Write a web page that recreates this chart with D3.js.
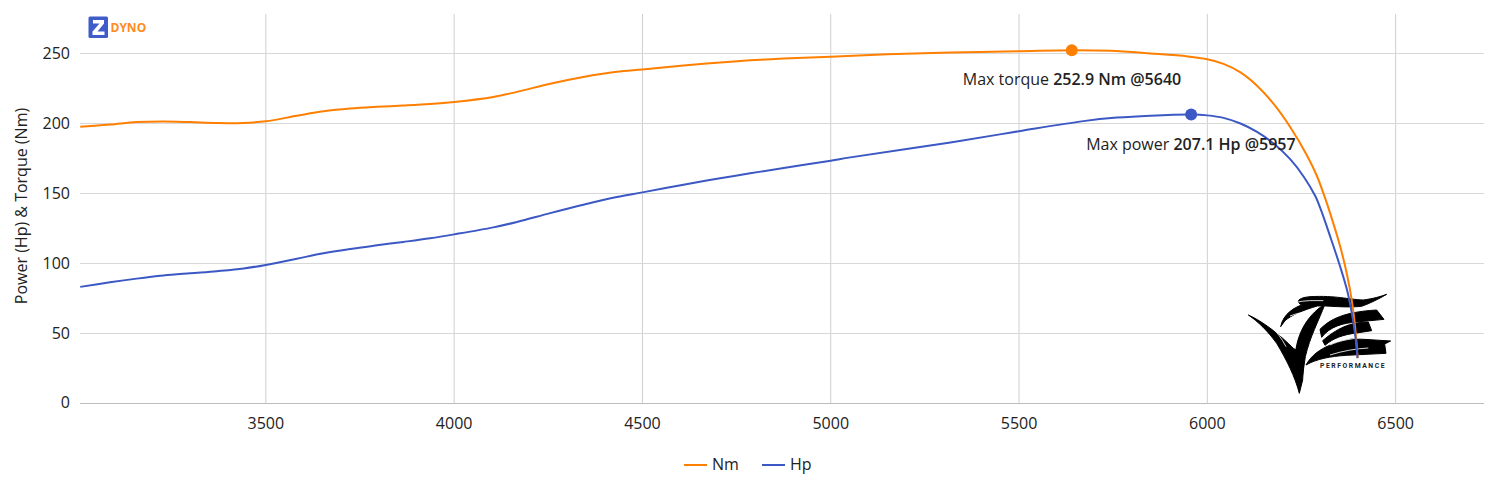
<!DOCTYPE html>
<html><head><meta charset="utf-8">
<script src="https://cdn.jsdelivr.net/npm/d3@7"></script>
<style>
html,body{margin:0;padding:0;background:#fff;}
svg{display:block;font-family:"Open Sans",sans-serif;}
text{fill:#222;}
</style></head><body>
<svg id="c" width="1500" height="500"></svg>
<script>
const seriesNames = ["Nm","Hp"];
const seriesColors = ["#ff7f00","#3b58c4"];
const xTicks = [3500,4000,4500,5000,5500,6000,6500];
const yTicks = [0,50,100,150,200,250];
const yTitle = "Power (Hp) & Torque (Nm)";

const nmRpm = [3007,3086,3157,3227,3299,3370,3440,3500,3582,3653,3724,3795,3865,3936,4000,4104,4167,4255,4343,4432,4500,4609,4698,4786,4875,5000,5150,5318,5500,5643,5742,5849,5948,6000,6043,6088,6132,6176,6220,6265,6291,6313,6326,6353,6371,6384,6393,6399];
const nmVal = [197.6,199.2,201,201.5,201,200.3,200.4,201.6,205.5,208.7,210.7,211.9,212.8,213.9,215.4,219,222.6,228.4,233.2,236.9,238.6,241.4,243.4,245.1,246.4,247.7,249.4,250.7,251.6,252.3,251.9,250,247.9,245.9,242.6,236.5,227,214,197.5,177,162.5,146.5,136,112,92,73,53,32.4];
const hpRpm = [3007,3086,3157,3228,3299,3370,3441,3500,3582,3653,3724,3795,3865,3936,4000,4104,4167,4255,4343,4432,4500,4609,4698,4786,4875,5000,5052,5318,5500,5671,5760,5849,5959,6000,6043,6088,6132,6176,6220,6256,6287,6300,6326,6353,6371,6384,6393,6399];
const hpVal = [83.3,86.6,89.2,91.4,93,94.5,96.4,99,103.4,107.3,110.4,113,115.4,118,120.8,125.8,129.7,136,142,147.5,150.8,156.3,160.5,164.4,168.2,173.4,175.8,186.4,194.5,201.7,204.2,205.6,206.4,205.8,204,200,194,185.7,174.5,162,148,139.5,119.5,97.5,81,64,48,32.4];

const peakRpm = [5640,5957];
const peakVal = [252.4,206.4];
const peakLead = ["Max torque ","Max power "];
const peakBold = ["252.9 Nm @5640","207.1 Hp @5957"];

const svg = d3.select("#c");
const x = d3.scaleLinear().domain([3007,6736]).range([79.7,1484]);
const y = d3.scaleLinear().domain([0,278]).range([403,13.8]);

// grid + axes
const gx = svg.append("g").attr("transform","translate(0,403)")
  .call(d3.axisBottom(x).tickValues(xTicks).tickSize(-389).tickFormat(d3.format("d")));
gx.select(".domain").remove();
gx.selectAll("line").attr("stroke","#cfcfcf");
gx.selectAll("text").attr("y",21).attr("dy",".32em").style("font-size","16px").style("font-family","'Open Sans'").style("fill","#222");

const gy = svg.append("g").attr("transform","translate(80,0)")
  .call(d3.axisLeft(y).tickValues(yTicks.filter(d=>d>0)).tickSize(-1404).tickFormat(d3.format("d")));
gy.select(".domain").remove();
gy.selectAll("line").attr("stroke","#d8d8d8");
gy.selectAll("text").attr("x",-10).style("font-size","16px").style("font-family","'Open Sans'").style("fill","#222");

svg.append("line").attr("x1",80).attr("x2",1484).attr("y1",y(0)+.5).attr("y2",y(0)+.5).attr("stroke","#bdbdbd").attr("stroke-width",1.2);
svg.append("text").attr("x",70).attr("y",y(0)).attr("dy",".32em").attr("text-anchor","end").style("font-size","16px").text(yTicks[0]);

svg.append("text").attr("transform","translate(21,206) rotate(-90)").attr("dy",".35em").attr("text-anchor","middle").style("font-size","16px").text(yTitle);

// ZDYNO logo
const zl = svg.append("g");
zl.append("rect").attr("x",88.5).attr("y",16.5).attr("width",19.5).attr("height",21.5).attr("rx",1.5).attr("fill","#3f5cc8");
zl.append("path").attr("d","M93,20 H104 V23.5 L97.5,31.5 H104.5 V35 H92.5 V31.5 L99.5,23.5 H93 Z").attr("fill","#fff");
zl.append("text").attr("x",110.5).attr("y",32).style("font-family","'Open Sans'").style("font-weight",700).style("font-size","12px").style("fill","#ff8a1e").text("DYNO");

// VZE logo (picture stamp behind the curves)
const lg = svg.append("g").attr("transform","translate(1230,280) scale(0.3333)");
const blk = [
 "M55,105 C100,125 150,165 190,205 L222,225 L218,300 L208,340 C195,290 170,240 140,190 C115,155 85,125 55,105Z",
 "M285,72 C265,125 240,170 226,230 L218,285 L196,225 C200,170 225,110 285,72Z",
 "M152,140 C160,100 195,82 215,75 C195,65 205,53 240,50 C320,46 350,58 400,60 C430,56 450,50 470,43 C450,55 420,70 395,79 C340,84 290,76 262,78 C220,90 185,105 165,122Z",
 "M270,148 C300,118 340,96 440,90 L462,118 L380,126 C340,129 300,139 275,172 Z",
 "M278,182 C320,146 360,126 415,126 L425,152 L380,159 C340,164 310,174 285,196Z",
 "M228,255 C250,216 290,191 370,176 L482,183 L464,192 L468,220 L350,226 C300,229 260,237 228,255Z"
];
lg.selectAll("path.b").data(blk).join("path").attr("class","b").attr("d",d=>d).attr("fill","#000").attr("stroke","#000").attr("stroke-width",3);
const wht = ["M195,68 C225,60 250,62 280,62","M180,108 C200,100 215,98 230,96","M120,135 C140,155 155,175 168,200","M300,195 C330,180 370,175 410,172","M300,225 C340,212 380,206 415,204"];
lg.selectAll("path.w").data(wht).join("path").attr("class","w").attr("d",d=>d).attr("fill","none").attr("stroke","#fff").attr("stroke-width",2.5);
svg.append("text").attr("x",1320).attr("y",368).style("font-family","'Roboto'").style("font-weight",700).style("font-size","6.8px").style("letter-spacing","1.55px").style("fill","#222").text("PERFORMANCE");

// curves
const line = d3.line().x(d=>x(d[0])).y(d=>y(d[1])).curve(d3.curveCatmullRom.alpha(0.5));
const series = [d3.zip(nmRpm,nmVal), d3.zip(hpRpm,hpVal)];
const plot = svg.append("g").attr("transform","translate(.5,.5)");
plot.selectAll("path.s").data(series).join("path").attr("class","s")
  .attr("d",line).attr("fill","none").attr("stroke",(d,i)=>seriesColors[i]).attr("stroke-width",2);

// peaks
plot.selectAll("circle.p").data(d3.zip(peakRpm,peakVal)).join("circle").attr("class","p")
  .attr("cx",d=>x(d[0])).attr("cy",d=>y(d[1])).attr("r",6).attr("fill",(d,i)=>seriesColors[i]);
const labelDx=[-108.5,-104.5], labelDy=[35,35.5];
peakRpm.forEach((r,i)=>{
  const t = svg.append("text").attr("x",x(r)+labelDx[i]).attr("y",y(peakVal[i])+labelDy[i]).style("font-size","16px");
  t.append("tspan").text(peakLead[i]);
  t.append("tspan").style("font-weight",600).text(peakBold[i]);
});

// legend
const lx=[684,762];
seriesNames.forEach((n,i)=>{
  svg.append("line").attr("x1",lx[i]).attr("x2",lx[i]+23).attr("y1",465).attr("y2",465).attr("stroke",seriesColors[i]).attr("stroke-width",2);
  svg.append("text").attr("x",lx[i]+28).attr("y",464).attr("dy",".35em").style("font-size","16px").text(n);
});
</script>
</body></html>
